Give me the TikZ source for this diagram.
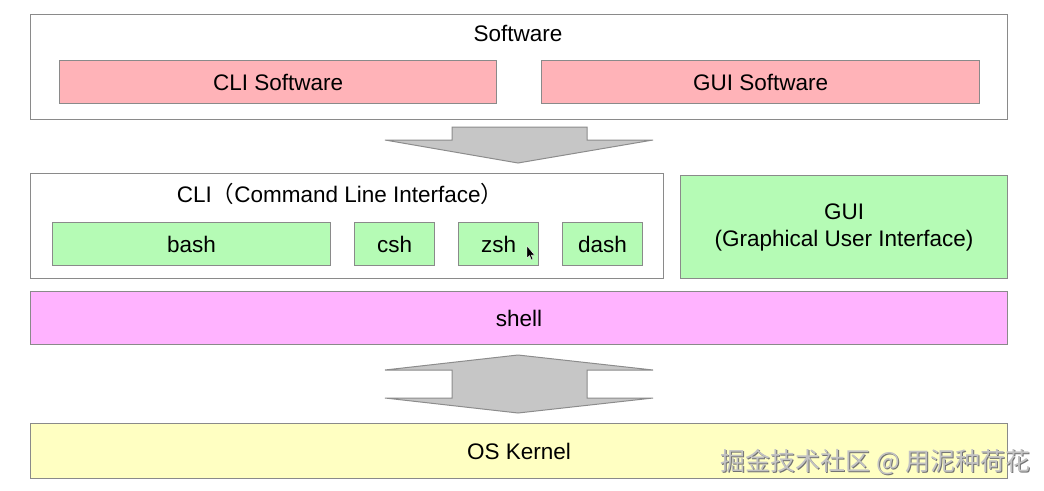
\documentclass[tikz,border=0pt]{standalone}
\usepackage{fontspec}
\setmainfont{Liberation Sans}
\newfontfamily\cjk{Noto Sans CJK SC}
\definecolor{boxline}{HTML}{8A8A8A}
\definecolor{pinkfill}{HTML}{FFB3B8}
\definecolor{greenfill}{HTML}{B5FBB5}
\definecolor{magfill}{HTML}{FFB3FF}
\definecolor{yelfill}{HTML}{FFFFC2}
\definecolor{arrowfill}{HTML}{C6C6C6}
\definecolor{arrowline}{HTML}{8C8C8C}
\definecolor{wmark}{HTML}{A8A8A8}
\begin{document}
\begin{tikzpicture}[x=1pt,y=-1pt,
  box/.style={draw=boxline, line width=1.2pt, anchor=north west, inner sep=0pt, font=\fontsize{22.5}{27}\selectfont},
  lbl/.style={font=\fontsize{22.5}{27}\selectfont, inner sep=0pt},
  bigarrow/.style={fill=arrowfill, draw=arrowline, line width=1pt, line join=miter}]
\useasboundingbox (0,0) rectangle (1044,490);
\fill[white] (0,0) rectangle (1044,490);
% Software layer
\node[box, fill=white, minimum width=977, minimum height=105] (sw) at (30,14) {};
\node[lbl] (swt) at (518,33) {Software};
\node[box, fill=pinkfill, minimum width=437, minimum height=43] (clisw) at (59,60) {CLI Software};
\node[box, fill=pinkfill, minimum width=438, minimum height=43] (guisw) at (541,60) {GUI Software};
% down arrow
\draw[bigarrow] (452,127) -- (587,127) -- (587,140) -- (653,140) -- (518,163) -- (385,140) -- (452,140) -- cycle;
% CLI layer
\node[box, fill=white, minimum width=633, minimum height=105] (cli) at (30,173) {};
\node[lbl] (clit) at (340,194) {CLI{\cjk （}Command Line Interface{\cjk ）}};
\node[box, fill=greenfill, minimum width=278, minimum height=43] (bash) at (52,222) {bash};
\node[box, fill=greenfill, minimum width=80, minimum height=43] (csh) at (354,222) {csh};
\node[box, fill=greenfill, minimum width=80, minimum height=43] (zsh) at (458,222) {zsh};
\node[box, fill=greenfill, minimum width=80, minimum height=43] (dash) at (562,222) {dash};
% GUI
\node[box, fill=greenfill, minimum width=327, minimum height=103, align=center, font=\fontsize{22.5}{27}\selectfont] (gui) at (680,175) {GUI\\(Graphical User Interface)};
% shell
\node[box, fill=magfill, minimum width=977, minimum height=53] (shell) at (30,291) {shell};
% double arrow
\draw[bigarrow] (518,355) -- (653,370) -- (587,370) -- (587,398) -- (653,398) -- (518,413) -- (385,398) -- (452,398) -- (452,370) -- (385,370) -- cycle;
% kernel
\node[box, fill=yelfill, minimum width=977, minimum height=55] (kernel) at (30,423) {OS Kernel};
% mouse cursor
\fill[black, draw=white, line width=0.4pt] (527,246) -- (527,258) -- (529.6,255.6) -- (531.4,260) -- (533,259.3) -- (531.2,255) -- (534.6,255) -- cycle;
% watermark
\node[font=\cjk\fontsize{25}{28}\selectfont, text=black!55, inner sep=0pt, anchor=east] (wm0) at (1031.8,462.8) {掘金技术社区 @ 用泥种荷花};
\node[font=\cjk\fontsize{25}{28}\selectfont, text=wmark!70!white, inner sep=0pt, anchor=east] (wm) at (1031,462) {掘金技术社区 @ 用泥种荷花};
\end{tikzpicture}
\end{document}
